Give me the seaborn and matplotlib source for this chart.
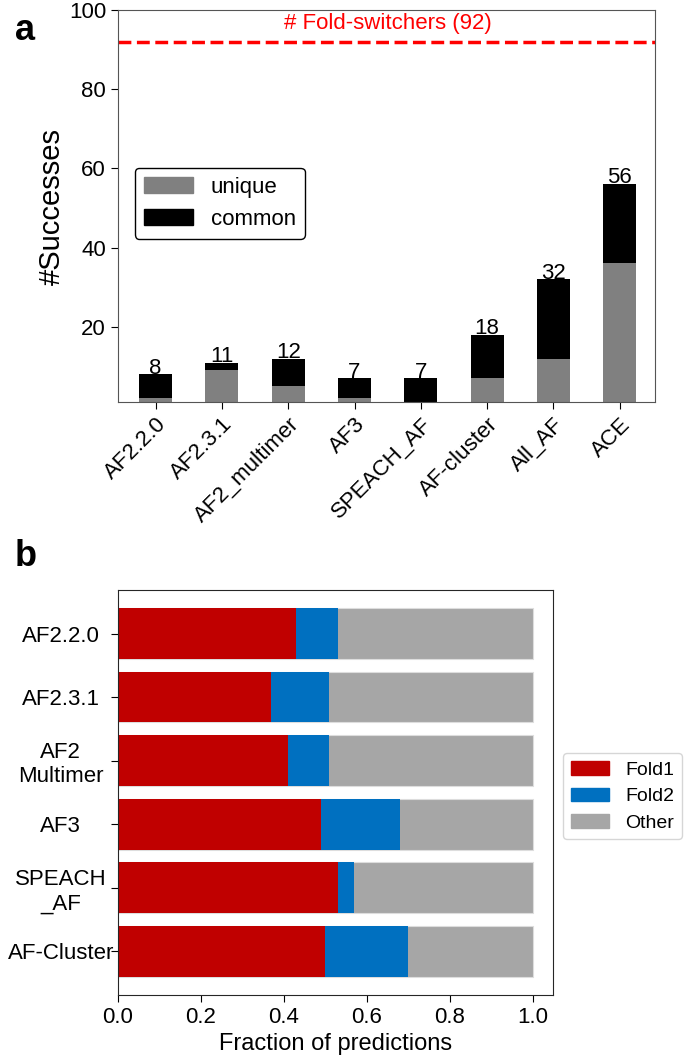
import matplotlib
matplotlib.use("Agg")
import matplotlib.pyplot as plt
import seaborn as sns
from matplotlib.patches import Patch

# Panel a data
methods = ["AF2.2.0", "AF2.3.1", "AF2_multimer", "AF3", "SPEACH_AF",
           "AF-cluster", "All_AF", "ACE"]
total = [8, 11, 12, 7, 7, 18, 32, 56]
unique = [2, 9, 5, 2, 0, 7, 12, 36]
n_switchers = 92

# Panel b data
models = ["AF2.2.0", "AF2.3.1", "AF2\nMultimer", "AF3", "SPEACH\n_AF", "AF-Cluster"]
fold1 = [0.43, 0.37, 0.41, 0.49, 0.53, 0.50]
fold2 = [0.10, 0.14, 0.10, 0.19, 0.04, 0.20]
other = [0.47, 0.49, 0.49, 0.32, 0.43, 0.30]

sns.set_style("ticks")
plt.rcParams["font.family"] = ["Liberation Sans", "DejaVu Sans"]
for key in ["text.color", "axes.labelcolor", "xtick.color", "ytick.color"]:
    plt.rcParams[key] = "black"

fig = plt.figure(figsize=(6.85, 10.61), dpi=100)

# ---- panel a
ax1 = fig.add_axes([0.172, 0.621, 0.784, 0.3696])
sns.barplot(x=methods, y=total, color="black", width=0.5, saturation=1,
            linewidth=0, ax=ax1)
sns.barplot(x=methods, y=unique, color="#808080", width=0.5, saturation=1,
            linewidth=0, ax=ax1)
for i, v in enumerate(total):
    ax1.text(i, v + 0.2, str(v), ha="center", va="baseline", fontsize=16)
ax1.axhline(n_switchers, color="#ff0000", ls="--", lw=2.5)
ax1.text(3.5, 96.6, f"# Fold-switchers ({n_switchers})", color="#ff0000",
         ha="center", va="center", fontsize=16)
ax1.set_ylim(1, 100)
ax1.set_xlim(-0.57, 7.53)
ax1.set_yticks([20, 40, 60, 80, 100])
ax1.set_ylabel("#Successes", fontsize=21, labelpad=2)
ax1.tick_params(labelsize=16, length=5)
plt.setp(ax1.get_xticklabels(), rotation=45, ha="right", rotation_mode="anchor")
for s in ax1.spines.values():
    s.set_color("#555555")
ax1.legend(handles=[Patch(color="#808080", label="unique"),
                    Patch(color="black", label="common")],
           loc="upper left", bbox_to_anchor=(0.032, 0.597), borderaxespad=0,
           fontsize=16, handlelength=2.2, edgecolor="black", framealpha=1)

# ---- panel b
ax2 = fig.add_axes([0.172, 0.0622, 0.635, 0.382])
cum2 = [a + b for a, b in zip(fold1, fold2)]
cum3 = [a + b for a, b in zip(cum2, other)]
sns.barplot(x=cum3, y=models, orient="h", color="#a6a6a6", saturation=1,
            edgecolor="#dddddd", linewidth=0.8, ax=ax2)
sns.barplot(x=cum2, y=models, orient="h", color="#0070c0", saturation=1,
            linewidth=0, ax=ax2)
sns.barplot(x=fold1, y=models, orient="h", color="#c00000", saturation=1,
            linewidth=0, ax=ax2)
ax2.set_xlim(0, 1.048)
ax2.set_ylim(5.69, -0.69)
ax2.set_xticks([0, 0.2, 0.4, 0.6, 0.8, 1.0])
ax2.set_xlabel("Fraction of predictions", fontsize=17)
ax2.set_ylabel("")
ax2.tick_params(labelsize=16, length=5)
for lab in ax2.get_yticklabels():
    lab.set_horizontalalignment("center")
ax2.tick_params(axis="y", pad=36)
ax2.legend(handles=[Patch(color="#c00000", label="Fold1"),
                    Patch(color="#0070c0", label="Fold2"),
                    Patch(color="#a6a6a6", label="Other")],
           loc="center left", bbox_to_anchor=(1.023, 0.49), borderaxespad=0,
           fontsize=14, handlelength=2.0, labelspacing=0.45)

fig.text(0.022, 0.988, "a", fontsize=26, fontweight="bold", va="top")
fig.text(0.022, 0.492, "b", fontsize=26, fontweight="bold", va="top")

fig.savefig("out.png", dpi=100)
